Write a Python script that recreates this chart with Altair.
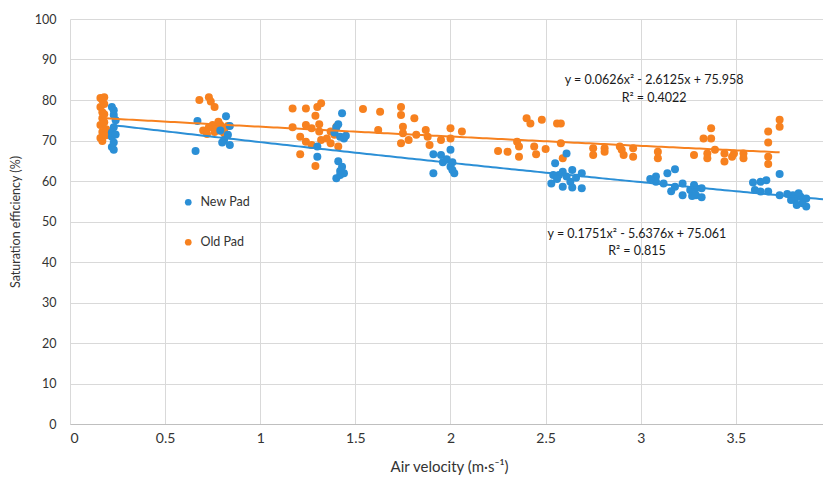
import altair as alt
import pandas as pd

# ---------------- data ----------------
series_names = ["New Pad", "Old Pad"]
series_colors = ["#2b8fd6", "#f7811f"]

new_x = [0.22, 0.23, 0.23, 0.22, 0.22, 0.23, 0.23, 0.24, 0.22, 0.24, 0.23,
         0.67, 0.66, 0.82, 0.84, 0.81, 0.84, 0.80, 0.83, 0.79,
         1.43, 1.40, 1.42, 1.44, 1.30, 1.30, 1.41, 1.43, 1.42, 1.44, 1.40, 1.42, 1.39, 1.45, 1.41,
         1.91, 1.95, 1.96, 1.91, 2.00, 2.01, 2.00, 2.02, 2.01, 1.98,
         2.55, 2.54, 2.53, 2.61, 2.59, 2.64, 2.69, 2.61, 2.63, 2.59, 2.64, 2.69, 2.57, 2.56, 2.66,
         3.18, 3.14, 3.08, 3.08, 3.12, 3.18, 3.22, 3.22, 3.26, 3.27, 3.29, 3.29, 3.28, 3.32, 3.32, 3.05, 3.16,
         3.59, 3.60, 3.63, 3.66, 3.63, 3.67, 3.73, 3.73, 3.80, 3.81, 3.84, 3.82, 3.87, 3.87, 3.85, 3.79, 3.77, 3.83]
new_y = [78.3, 76.3, 73.3, 70.9, 68.4, 67.7, 77.5, 75.0, 72.0, 71.5, 69.5,
         74.8, 67.4, 76.0, 73.6, 70.1, 68.9, 69.5, 71.4, 72.5,
         76.7, 73.3, 70.9, 70.5, 68.5, 66.0, 64.9, 63.5, 62.5, 61.9, 60.7, 61.5, 72.0, 71.2, 74.0,
         66.6, 66.4, 64.6, 61.9, 67.7, 64.6, 63.5, 61.9, 62.7, 65.4,
         64.4, 61.5, 59.4, 66.8, 62.3, 62.7, 61.9, 61.1, 59.8, 58.6, 58.4, 58.2, 61.5, 60.5, 60.8,
         62.9, 61.9, 61.1, 59.8, 59.4, 58.6, 59.4, 56.5, 57.8, 56.3, 58.2, 56.5, 59.0, 58.2, 56.0, 60.5, 57.5,
         59.6, 57.8, 59.8, 60.2, 57.4, 57.4, 61.7, 56.5, 56.5, 55.3, 56.1, 54.1, 55.7, 53.7, 54.5, 55.3, 56.8, 57.0]

old_x = [0.16, 0.18, 0.17, 0.16, 0.17, 0.17, 0.16, 0.17, 0.16, 0.17, 0.18, 0.19, 0.18, 0.19, 0.18,
         0.68, 0.73, 0.74, 0.76, 0.70, 0.73, 0.75, 0.77, 0.79, 0.81, 0.83, 0.72, 0.76, 0.79, 0.81, 0.78,
         1.17, 1.24, 1.30, 1.32, 1.29, 1.17, 1.24, 1.27, 1.31, 1.21, 1.24, 1.27, 1.32, 1.37, 1.41,
         1.21, 1.29, 1.37, 1.40, 1.39, 1.31, 1.35,
         1.54, 1.63, 1.74, 1.74, 1.81, 1.62, 1.75, 1.75, 1.74, 1.78, 1.82,
         1.87, 1.88, 1.89, 1.95, 2.00, 2.00, 2.06,
         2.25, 2.30, 2.35, 2.36, 2.36, 2.40, 2.42, 2.48, 2.44, 2.45, 2.50, 2.56,
         2.58, 2.58, 2.59, 2.75, 2.75, 2.81, 2.81, 2.89, 2.91, 2.90, 2.96, 2.96, 3.09, 3.09, 3.28,
         3.37, 3.33, 3.37, 3.35, 3.39, 3.35, 3.44, 3.44, 3.48, 3.49, 3.54, 3.54,
         3.67, 3.67, 3.67, 3.67, 3.73, 3.73]
old_y = [80.5, 80.7, 80.0, 78.3, 77.0, 75.5, 73.8, 72.1, 70.6, 69.9, 74.5, 72.8, 76.5, 71.3, 79.0,
         80.0, 80.7, 79.6, 78.3, 72.5, 73.3, 73.8, 73.3, 73.8, 72.8, 73.6, 71.6, 72.1, 72.4, 71.8, 74.6,
         77.9, 77.9, 78.3, 79.2, 76.1, 73.3, 73.8, 73.0, 74.0, 70.9, 69.7, 68.9, 70.1, 69.3, 68.5,
         66.6, 63.7, 72.2, 73.4, 71.4, 72.2, 70.5,
         77.8, 77.1, 78.3, 76.3, 75.5, 72.6, 73.4, 71.8, 69.3, 70.1, 71.4,
         72.6, 70.9, 68.9, 70.1, 73.0, 70.5, 72.2,
         67.4, 67.2, 69.7, 68.5, 66.0, 75.5, 74.2, 75.1, 68.5, 66.6, 67.9, 74.2,
         74.2, 69.3, 65.6, 68.1, 66.4, 68.1, 67.2, 68.5, 66.4, 67.7, 68.1, 66.0, 67.2, 65.6, 66.4,
         73.0, 70.5, 70.5, 66.8, 67.7, 65.6, 66.8, 64.8, 66.0, 66.8, 66.8, 65.6,
         72.2, 69.5, 66.0, 64.2, 75.1, 73.4]

# trendline coefficients (a, b, c for a*x^2 + b*x + c) and drawn x range
fit_new = [0.1751, -5.6376, 75.061]
fit_old = [0.0626, -2.6125, 75.958]
fit_new_range = [0.22, 4.0]
fit_old_range = [0.17, 3.74]

eq_text = ["y = 0.0626x² - 2.6125x + 75.958", "R² = 0.4022",
           "y = 0.1751x² - 5.6376x + 75.061", "R² = 0.815"]
eq_x = [3.07, 3.07, 2.98, 2.98]
eq_y = [84.9, 80.4, 46.9, 42.8]

x_ticks = [0, 0.5, 1, 1.5, 2, 2.5, 3, 3.5, 4]
y_ticks = [0, 10, 20, 30, 40, 50, 60, 70, 80, 90, 100]
x_visible_max = 3.958   # the reference's plot is cut off just before x = 4

# ---------------- build ----------------
FONT = "Lato"
TXT = "#333333"

pts = pd.concat([
    pd.DataFrame({"x": old_x, "y": old_y, "series": series_names[1]}),
    pd.DataFrame({"x": new_x, "y": new_y, "series": series_names[0]}),
], ignore_index=True)

xscale = alt.Scale(domain=[0, x_visible_max], nice=False)
yscale = alt.Scale(domain=[0, 100], nice=False)
cscale = alt.Scale(domain=series_names, range=series_colors)

points = alt.Chart(pts).mark_circle(size=64, opacity=1, clip=True).encode(
    x=alt.X("x:Q", scale=xscale,
            axis=alt.Axis(values=x_ticks, format=".1~f", title="Air velocity (m·s⁻¹)",
                          grid=True, gridColor="#d9d9d9", domainColor="#bfbfbf",
                          ticks=False, labelPadding=7, titlePadding=14,
                          labelFontSize=14, titleFontSize=15,
                          titleX=379, titleAlign="center")),
    y=alt.Y("y:Q", scale=yscale,
            axis=alt.Axis(values=y_ticks, title="Saturation efficiency (%)",
                          grid=True, gridColor="#d9d9d9", domain=False,
                          ticks=False, labelPadding=14, titlePadding=12,
                          labelFontSize=12.5, titleFontSize=12.5)),
    color=alt.Color("series:N", scale=cscale,
                    legend=alt.Legend(title=None, orient="none", legendX=112, legendY=177,
                                      symbolType="circle", symbolSize=45, symbolStrokeWidth=0,
                                      labelFont=FONT, labelFontSize=12.5, labelColor=TXT,
                                      rowPadding=27, labelOffset=6)),
)


def trend(coefs, xr, color):
    a, b, c = coefs
    return alt.Chart(alt.sequence(xr[0], xr[1] + 0.001, 0.02, as_="x")).transform_calculate(
        y=f"{a}*datum.x*datum.x + ({b})*datum.x + {c}"
    ).mark_line(color=color, strokeWidth=2, clip=True).encode(
        x=alt.X("x:Q", scale=xscale), y=alt.Y("y:Q", scale=yscale)
    )


eqs = alt.Chart(pd.DataFrame({"x": eq_x, "y": eq_y, "t": eq_text})).mark_text(
    font=FONT, fontSize=12.5, color="#1a1a1a", align="center", baseline="middle"
).encode(x=alt.X("x:Q", scale=xscale), y=alt.Y("y:Q", scale=yscale), text="t:N")

chart = alt.layer(
    points,
    trend(fit_old, fit_old_range, series_colors[1]),
    trend(fit_new, fit_new_range, series_colors[0]),
    eqs,
).properties(
    width=753, height=405,
    padding={"left": 62, "top": 11, "right": 0, "bottom": 51},
    autosize=alt.AutoSizeParams(type="none"),
).configure_view(stroke=None).configure_axis(
    labelFont=FONT, labelColor=TXT,
    titleFont=FONT, titleColor=TXT, titleFontWeight="normal",
)

chart.save("out.html", embed_options={"renderer": "svg", "actions": False})
